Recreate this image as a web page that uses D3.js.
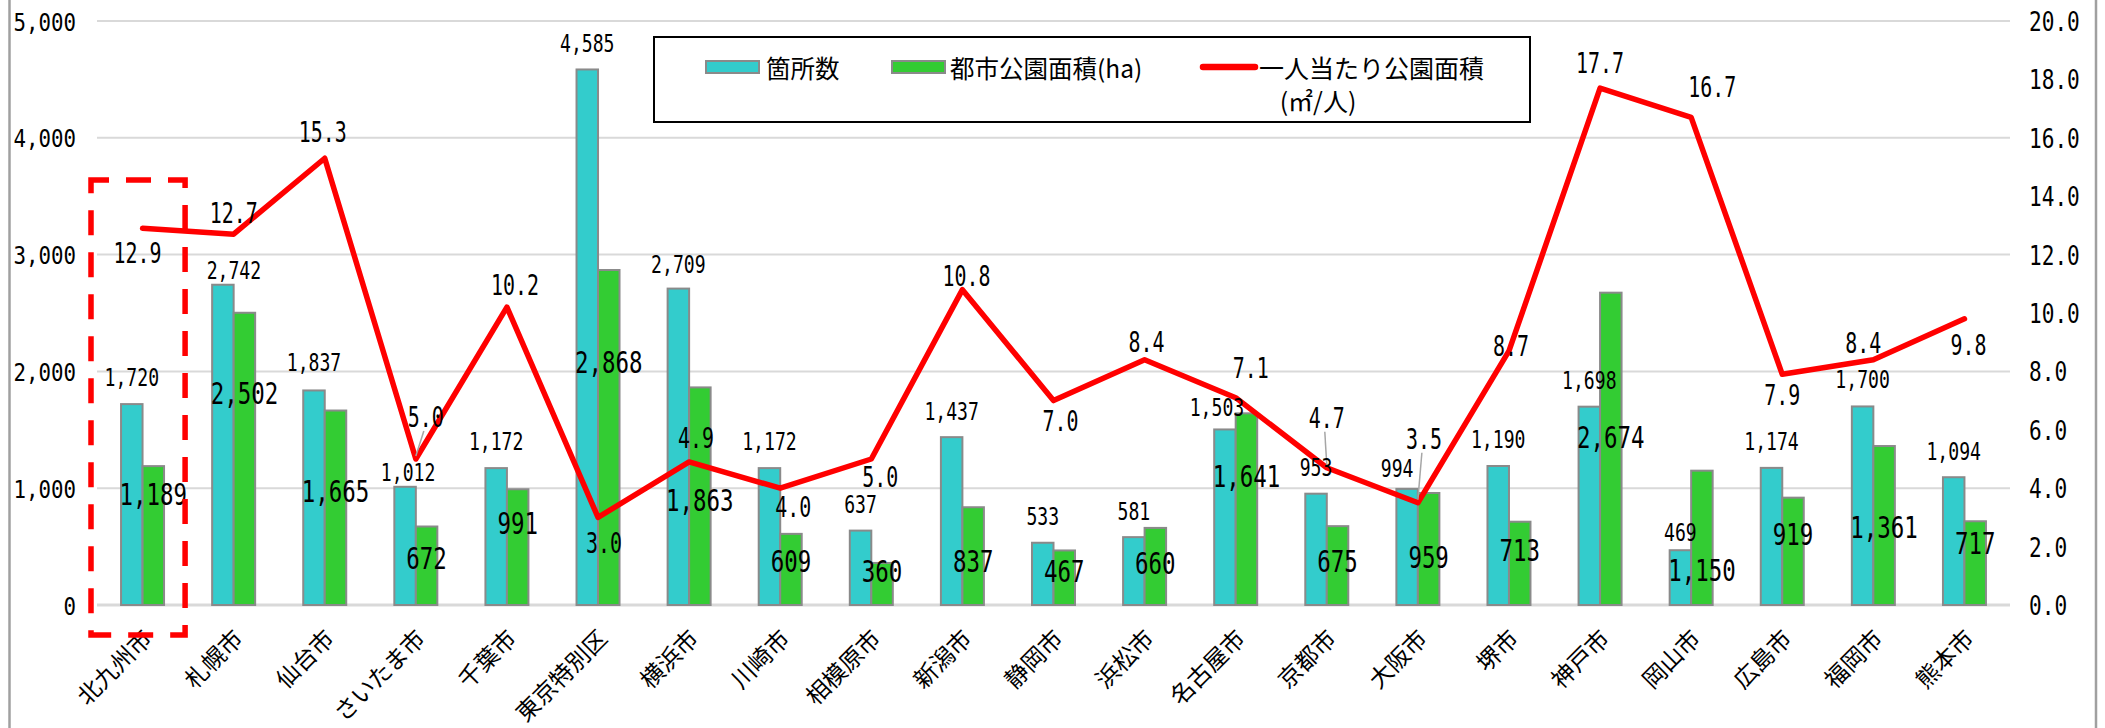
<!DOCTYPE html>
<html><head><meta charset="utf-8">
<script src="https://cdn.jsdelivr.net/npm/d3@7"></script>
<style>html,body{margin:0;padding:0;background:#fff;} svg{display:block;}</style>
</head><body>
<svg id="chart" width="2105" height="728"></svg>
<script>
// ---------------- data ----------------
const categories = ["北九州市","札幌市","仙台市","さいたま市","千葉市","東京特別区","横浜市","川崎市","相模原市","新潟市","静岡市","浜松市","名古屋市","京都市","大阪市","堺市","神戸市","岡山市","広島市","福岡市","熊本市"];
const parkCount = [1720,2742,1837,1012,1172,4585,2709,1172,637,1437,533,581,1503,953,994,1190,1698,469,1174,1700,1094];
const parkArea = [1189,2502,1665,672,991,2868,1863,609,360,837,467,660,1641,675,959,713,2674,1150,919,1361,717];
const areaPerPerson = [12.9,12.7,15.3,5.0,10.2,3.0,4.9,4.0,5.0,10.8,7.0,8.4,7.1,4.7,3.5,8.7,17.7,16.7,7.9,8.4,9.8];
const leftTicks = [0,1000,2000,3000,4000,5000];
const rightTicks = [0,2,4,6,8,10,12,14,16,18,20];
const seriesNames = ["箇所数","都市公園面積(ha)","一人当たり公園面積","(㎡/人)"];
const highlighted = "北九州市";

// ---------------- label placement (layout only) ----------------
const countLabelShift = [[0,-27],[11,-15],[0,-28],[3,-15],[0,-27],[0,-26],[0,-25],[0,-27],[0,-27],[0,-26],[0,-27],[0,-26],[-8,-22],[0,-27],[-10,-21],[0,-27],[0,-27],[0,-18],[0,-27],[0,-27],[0,-26]];
const areaLabelAt = [950,1815,976,402,702,2076,895,377,291,377,291,360,1104,377,411,471,1438,300,608,668,531];
const rateLabelShift = [[-5,25],[0,-21],[-2,-26],[10,-42],[8,-22],[6,26],[7,-24],[13,19],[9,18],[4,-14],[7,20],[2,-18],[15,-30],[0,-50],[6,-64],[2,-5],[0,-25],[21,-30],[0,21],[-10,-17],[4,26]];
const rateLeader = [3,13,14];

// ---------------- setup ----------------
const svg = d3.select("#chart");
const W = 2105, H = 728;
const plot = {left: 97, right: 2010, top: 21, bottom: 605};
const NUMFONT = "'DejaVu Sans Mono','Liberation Mono',monospace";
const JPFONT = "'Noto Sans CJK JP','Noto Sans CJK SC',sans-serif";
const cCount = "#33CCCC", cArea = "#33CC33", cLine = "#FF0000", cEdge = "#8a8a8a";

svg.append("rect").attr("width", W).attr("height", H).attr("fill", "#fff");
// outer frame sides
svg.append("line").attr("x1", 9.5).attr("x2", 9.5).attr("y1", 0).attr("y2", H).attr("stroke", "#a0a0a0").attr("stroke-width", 2.5);
svg.append("line").attr("x1", 2096).attr("x2", 2096).attr("y1", 0).attr("y2", H).attr("stroke", "#a0a0a0").attr("stroke-width", 2.5);

const x = d3.scaleBand().domain(categories).range([plot.left, plot.right]).paddingInner(0).paddingOuter(0);
const yL = d3.scaleLinear().domain([0, 5000]).range([plot.bottom, plot.top]);
const yR = d3.scaleLinear().domain([0, 20]).range([plot.bottom, plot.top]);
const barW = x.bandwidth() * 0.236;
const cx = c => x(c) + x.bandwidth() / 2;

function numText(g, px, pyCenter, str, fs, cw, anchor) {
  return g.append("text")
    .attr("x", px).attr("y", pyCenter + 0.365 * fs)
    .attr("text-anchor", anchor || "middle")
    .attr("font-family", NUMFONT).attr("font-size", fs)
    .attr("textLength", str.length * cw).attr("lengthAdjust", "spacingAndGlyphs")
    .attr("fill", "#000")
    .text(str);
}

// gridlines
svg.append("g").selectAll("line").data(leftTicks).join("line")
  .attr("x1", plot.left).attr("x2", plot.right)
  .attr("y1", d => yL(d)).attr("y2", d => yL(d))
  .attr("stroke", "#d9d9d9").attr("stroke-width", d => d === 0 ? 3 : 2);

// axes
const fmtInt = d3.format(",");
const fmt1 = d3.format(".1f");
const axL = svg.append("g").attr("transform", `translate(${plot.left},0)`)
  .call(d3.axisLeft(yL).tickValues(leftTicks).tickSize(0).tickPadding(21).tickFormat(fmtInt));
axL.select(".domain").remove();
axL.selectAll("text").each(function(d) {
  const s = fmtInt(d);
  d3.select(this).attr("font-family", NUMFONT).attr("font-size", 25).attr("dy", (0.365 * 25) + "px")
    .attr("textLength", s.length * 12.5).attr("lengthAdjust", "spacingAndGlyphs").attr("fill", "#000");
});
const axR = svg.append("g").attr("transform", `translate(${plot.right},0)`)
  .call(d3.axisRight(yR).tickValues(rightTicks).tickSize(0).tickPadding(19).tickFormat(fmt1));
axR.select(".domain").remove();
axR.selectAll("text").each(function(d) {
  const s = fmt1(d);
  d3.select(this).attr("font-family", NUMFONT).attr("font-size", 26).attr("dy", (0.365 * 26) + "px")
    .attr("textLength", s.length * 12.7).attr("lengthAdjust", "spacingAndGlyphs").attr("fill", "#000");
});

// category labels
svg.append("g").selectAll("text").data(categories).join("text")
  .attr("transform", d => `translate(${cx(d) + 4},633) rotate(-45)`)
  .attr("text-anchor", "end").attr("dominant-baseline", "central")
  .attr("font-family", JPFONT).attr("font-size", 23.5).attr("fill", "#000")
  .text(d => d);

// bars
const bars = svg.append("g");
bars.selectAll("rect.cnt").data(categories).join("rect").attr("class", "cnt")
  .attr("x", d => cx(d) - barW).attr("width", barW)
  .attr("y", (d, i) => yL(parkCount[i])).attr("height", (d, i) => yL(0) - yL(parkCount[i]))
  .attr("fill", cCount).attr("stroke", cEdge).attr("stroke-width", 2);
bars.selectAll("rect.area").data(categories).join("rect").attr("class", "area")
  .attr("x", d => cx(d)).attr("width", barW)
  .attr("y", (d, i) => yL(parkArea[i])).attr("height", (d, i) => yL(0) - yL(parkArea[i]))
  .attr("fill", cArea).attr("stroke", cEdge).attr("stroke-width", 2);

// line
const line = d3.line().x((d, i) => cx(categories[i])).y(d => yR(d));
svg.append("path").datum(areaPerPerson).attr("d", line)
  .attr("fill", "none").attr("stroke", cLine).attr("stroke-width", 5.5)
  .attr("stroke-linejoin", "round").attr("stroke-linecap", "round");

// leader lines
const lbl = svg.append("g");
rateLeader.forEach(i => {
  const px = cx(categories[i]), py = yR(areaPerPerson[i]);
  const lx = px + rateLabelShift[i][0], ly = py + rateLabelShift[i][1];
  lbl.append("line").attr("x1", lx - 2).attr("y1", ly + 14).attr("x2", px).attr("y2", py - 3)
    .attr("stroke", "#a6a6a6").attr("stroke-width", 1.5);
});

// count labels
categories.forEach((c, i) => {
  const s = fmtInt(parkCount[i]);
  numText(lbl, cx(c) - barW / 2 + countLabelShift[i][0], yL(parkCount[i]) + countLabelShift[i][1], s, 24.5, 10.9);
});
// area labels
categories.forEach((c, i) => {
  const s = fmtInt(parkArea[i]);
  numText(lbl, cx(c) + barW / 2, yL(areaLabelAt[i]), s, 30, 13.5);
});
// rate labels
categories.forEach((c, i) => {
  const s = fmt1(areaPerPerson[i]);
  numText(lbl, cx(c) + rateLabelShift[i][0], yR(areaPerPerson[i]) + rateLabelShift[i][1], s, 27.5, 12);
});

// legend
const lg = svg.append("g");
lg.append("rect").attr("x", 654).attr("y", 37).attr("width", 876).attr("height", 85)
  .attr("fill", "#fff").attr("stroke", "#000").attr("stroke-width", 2);
lg.append("rect").attr("x", 706).attr("y", 61).attr("width", 53).attr("height", 12)
  .attr("fill", cCount).attr("stroke", cEdge).attr("stroke-width", 2);
lg.append("text").attr("x", 766).attr("y", 67).attr("dominant-baseline", "central")
  .attr("font-family", JPFONT).attr("font-size", 24.5).text(seriesNames[0]);
lg.append("rect").attr("x", 892).attr("y", 61).attr("width", 53).attr("height", 12)
  .attr("fill", cArea).attr("stroke", cEdge).attr("stroke-width", 2);
lg.append("text").attr("x", 950).attr("y", 67).attr("dominant-baseline", "central")
  .attr("font-family", JPFONT).attr("font-size", 24.5).text(seriesNames[1]);
lg.append("line").attr("x1", 1203).attr("x2", 1255).attr("y1", 67).attr("y2", 67)
  .attr("stroke", cLine).attr("stroke-width", 6.5).attr("stroke-linecap", "round");
lg.append("text").attr("x", 1259).attr("y", 67).attr("dominant-baseline", "central")
  .attr("font-family", JPFONT).attr("font-size", 25).text(seriesNames[2]);
lg.append("text").attr("x", 1318).attr("y", 100).attr("dominant-baseline", "central").attr("text-anchor", "middle")
  .attr("font-family", JPFONT).attr("font-size", 25).text(seriesNames[3]);

// highlight box
const hx0 = x(highlighted) - 6, hx1 = x(highlighted) + x.bandwidth() - 3;
svg.append("path")
  .attr("d", `M${hx0},180 L${hx1},180 L${hx1},635 L${hx0},635 Z`)
  .attr("fill", "none").attr("stroke", "#FF0000").attr("stroke-width", 5.5)
  .attr("stroke-dasharray", "25,17").attr("stroke-dashoffset", 7);
</script>
</body></html>
